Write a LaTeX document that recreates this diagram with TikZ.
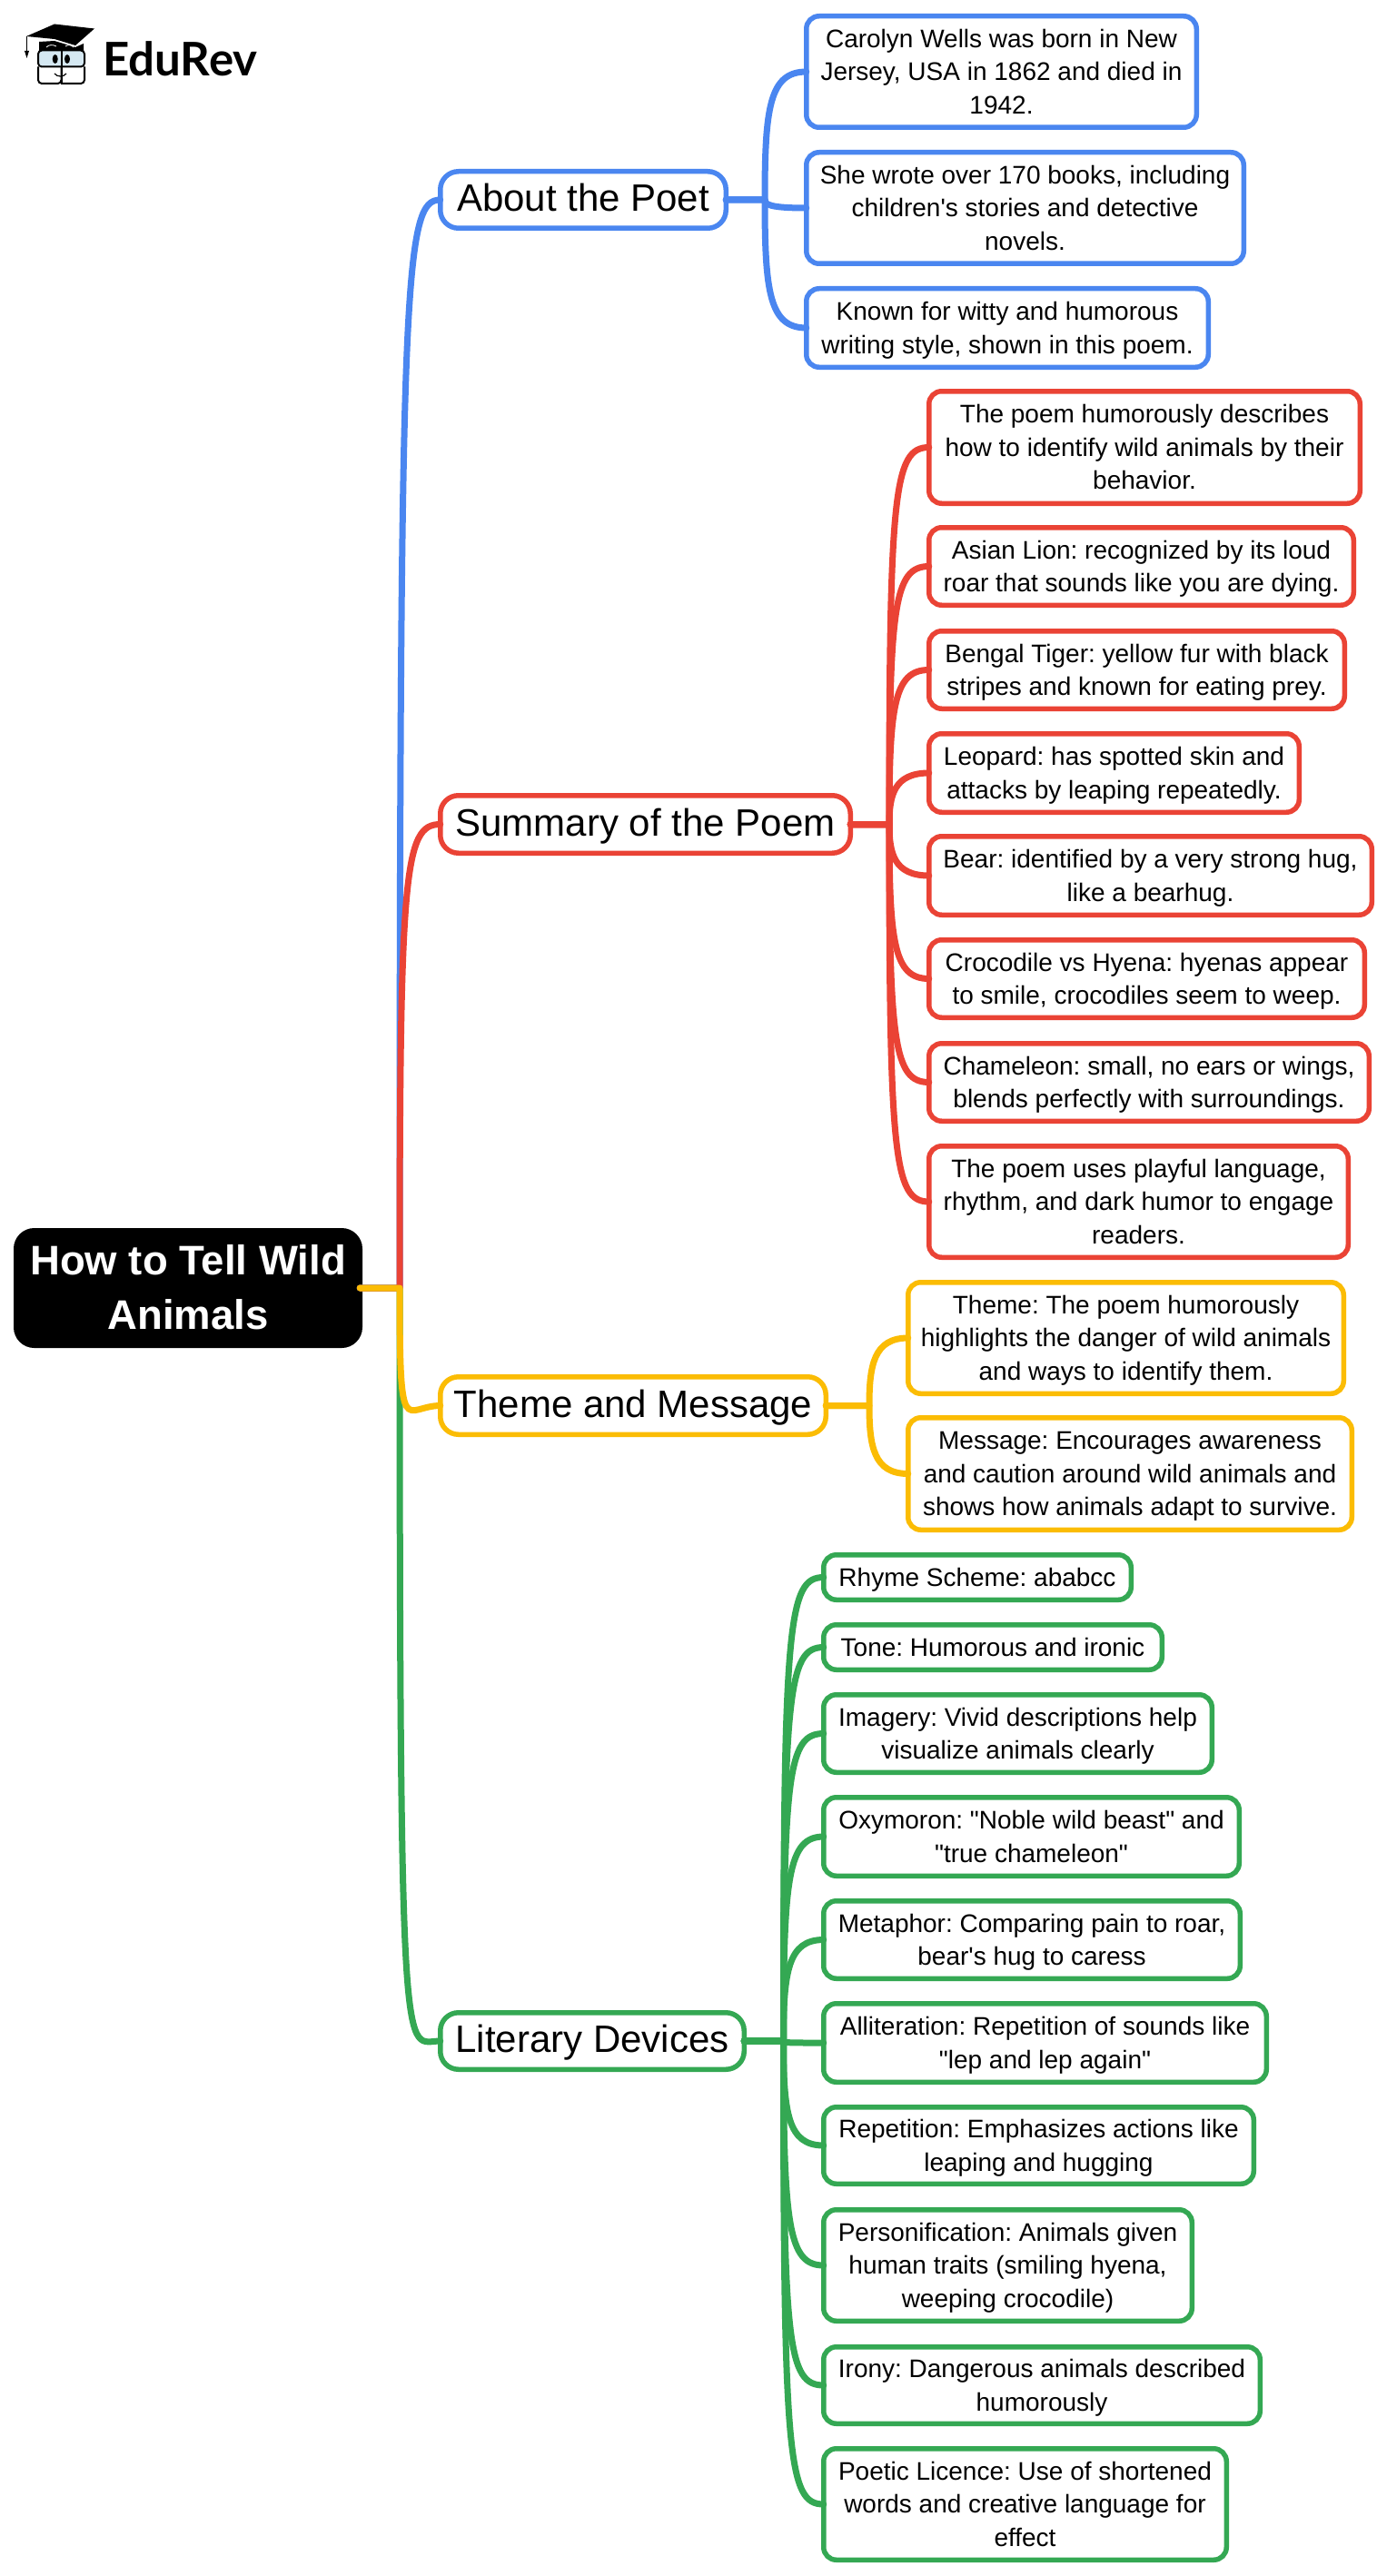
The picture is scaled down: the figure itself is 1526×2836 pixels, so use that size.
\documentclass[tikz,border=0pt]{standalone}
\usepackage{fontspec}
\newfontfamily\mmfont{Liberation Sans}
\newfontfamily\logofont{Lato}
\usetikzlibrary{calc}
\definecolor{mmblue}{HTML}{4A86F0}
\definecolor{mmred}{HTML}{EA4335}
\definecolor{mmyellow}{HTML}{FBBC04}
\definecolor{mmgreen}{HTML}{34A853}
\definecolor{glassblue}{HTML}{D5E8F2}
\newcommand{\mmdrop}{.25em}
\tikzset{
  mmbase/.style={rectangle,align=center,inner sep=0pt,outer sep=0pt,text=black},
  rootbox/.style={mmbase,draw=black,fill=black,line width=5.5pt,rounded corners=20pt,text=white,
    font=\mmfont\fontsize{45.5}{60}\selectfont\bfseries},
  branchbox/.style={mmbase,draw=#1,fill=white,line width=5.5pt,rounded corners=20pt,
    font=\mmfont\fontsize{42}{50}\selectfont\def\mmdrop{.3em}},
  leafbox/.style={mmbase,draw=#1,fill=white,line width=5.5pt,rounded corners=14pt,
    font=\mmfont\fontsize{28}{36.5}\selectfont},
  linkline/.style={draw=#1,line width=7pt,line cap=round,line join=round},
}
\newcommand{\mmstrut}{\rule[-\mmdrop]{0pt}{1.2em}}
% name, left, top, right, bottom (outer edges), style, text
\newcommand{\mmbox}[7]{%
  \pgfmathsetmacro\mmcx{(#2+#4+2)/2}%
  \pgfmathsetmacro\mmcy{(#3+#5)/2}%
  \pgfmathsetmacro\mmw{#4-#2-3.5}%
  \pgfmathsetmacro\mmh{#5-#3-5.5}%
  \node[#6,minimum width=\mmw pt,minimum height=\mmh pt] (#1) at (\mmcx,\mmcy) {\mmstrut #7\mmstrut};}
% colour, parent, trunk, child, control distance
\newcommand{\mmlink}[5]{%
  \draw[linkline=#1] (#2.east) -- (#3)
    .. controls ($(#3 |- #4.west)+(0,#5)$) and ($(#3 |- #4.west)+(5,0)$) .. (#4.west);}
\begin{document}
\frenchspacing
\begin{tikzpicture}[x=1pt,y=-1pt]
\useasboundingbox (0,0) rectangle (1526,2836);
\fill[white] (0,0) rectangle (1526,2836);

% logo
\fill[black] (29,40) -- (60,26.5) -- (104,31.5) -- (83,50) -- (60,43) -- cycle;
\fill[black] (43,46) -- (60,45) -- (83,52) -- (92,48) -- (92,56) -- (43,56) -- cycle;
\draw[white,line width=0.8pt] (51,52) .. controls (54,49) and (58,49) .. (62,51);
\draw[white,line width=0.8pt] (72,51) .. controls (75,49) and (78,49) .. (81,52);
\draw[black,line width=1.2pt] (29.5,40) -- (29.5,56);
\fill[black] (27,56) -- (32,56) -- (29.5,64) -- cycle;
\draw[black,line width=2pt,rounded corners=4pt] (42,73.5) -- (42,92) -- (67.5,92) -- (67.5,73.5);
\draw[black,line width=2pt,rounded corners=4pt] (67.5,92) -- (93,92) -- (93,73.5);
\draw[black,line width=2pt,fill=glassblue,rounded corners=4pt] (42,55.5) rectangle (93,73.5);
\draw[black,line width=2pt] (67.5,53) -- (67.5,93);
\fill[black] (60.7,65) ellipse [x radius=3pt,y radius=5pt];
\fill[black] (74,65) ellipse [x radius=3pt,y radius=5pt];
\draw[black,line width=1.2pt] (60,81) .. controls (63,85) and (70,85) .. (73,81);
\node[anchor=base west,inner sep=0pt,font=\logofont\fontsize{51}{51}\selectfont\bfseries] (logotext) at (113,83.5) {EduRev};

% root
\mmbox{root}{15}{1352}{397}{1484}{rootbox}{How to Tell Wild\\Animals}

% branches
\mmbox{about}{482}{186}{800}{254}{branchbox=mmblue}{About the Poet}
\mmbox{summary}{482}{873}{937}{942}{branchbox=mmred}{Summary of the Poem}
\mmbox{theme}{482}{1513}{910}{1582}{branchbox=mmyellow}{Theme and Message}
\mmbox{literary}{482}{2213}{820}{2281}{branchbox=mmgreen}{Literary Devices}

% blue leaves
\mmbox{b1}{885}{15}{1318}{143}{leafbox=mmblue}{Carolyn Wells was born in New\\Jersey, USA in 1862 and died in\\1942.}
\mmbox{b2}{885}{165}{1370}{293}{leafbox=mmblue}{She wrote over 170 books, including\\children's stories and detective\\novels.}
\mmbox{b3}{885}{315}{1331}{407}{leafbox=mmblue}{Known for witty and humorous\\writing style, shown in this poem.}

% red leaves
\mmbox{r1}{1020}{428}{1498}{557}{leafbox=mmred}{The poem humorously describes\\how to identify wild animals by their\\behavior.}
\mmbox{r2}{1020}{578}{1491}{669}{leafbox=mmred}{Asian Lion: recognized by its loud\\roar that sounds like you are dying.}
\mmbox{r3}{1020}{692}{1481}{783}{leafbox=mmred}{Bengal Tiger: yellow fur with black\\stripes and known for eating prey.}
\mmbox{r4}{1020}{805}{1431}{897}{leafbox=mmred}{Leopard: has spotted skin and\\attacks by leaping repeatedly.}
\mmbox{r5}{1020}{918}{1511}{1010}{leafbox=mmred}{Bear: identified by a very strong hug,\\like a bearhug.}
\mmbox{r6}{1020}{1032}{1503}{1123}{leafbox=mmred}{Crocodile vs Hyena: hyenas appear\\to smile, crocodiles seem to weep.}
\mmbox{r7}{1020}{1146}{1508}{1237}{leafbox=mmred}{Chameleon: small, no ears or wings,\\blends perfectly with surroundings.}
\mmbox{r8}{1020}{1259}{1485}{1387}{leafbox=mmred}{The poem uses playful language,\\rhythm, and dark humor to engage\\readers.}

% yellow leaves
\mmbox{y1}{997}{1409}{1480}{1537}{leafbox=mmyellow}{Theme: The poem humorously\\highlights the danger of wild animals\\and ways to identify them.}
\mmbox{y2}{997}{1558}{1489}{1687}{leafbox=mmyellow}{Message: Encourages awareness\\and caution around wild animals and\\shows how animals adapt to survive.}

% green leaves
\mmbox{g1}{904}{1709}{1246}{1764}{leafbox=mmgreen}{Rhyme Scheme: ababcc}
\mmbox{g2}{904}{1786}{1280}{1841}{leafbox=mmgreen}{Tone: Humorous and ironic}
\mmbox{g3}{904}{1863}{1335}{1954}{leafbox=mmgreen}{Imagery: Vivid descriptions help\\visualize animals clearly}
\mmbox{g4}{904}{1976}{1365}{2068}{leafbox=mmgreen}{Oxymoron: "Noble wild beast" and\\"true chameleon"}
\mmbox{g5}{904}{2090}{1366}{2181}{leafbox=mmgreen}{Metaphor: Comparing pain to roar,\\bear's hug to caress}
\mmbox{g6}{904}{2203}{1395}{2295}{leafbox=mmgreen}{Alliteration: Repetition of sounds like\\"lep and lep again"}
\mmbox{g7}{904}{2317}{1381}{2407}{leafbox=mmgreen}{Repetition: Emphasizes actions like\\leaping and hugging}
\mmbox{g8}{904}{2430}{1313}{2558}{leafbox=mmgreen}{Personification: Animals given\\human traits (smiling hyena,\\weeping crocodile)}
\mmbox{g9}{904}{2581}{1388}{2671}{leafbox=mmgreen}{Irony: Dangerous animals described\\humorously}
\mmbox{g10}{904}{2693}{1351}{2821}{leafbox=mmgreen}{Poetic Licence: Use of shortened\\words and creative language for\\effect}

% trunks
\coordinate (troot) at ($(root.east)+(43.75,0)$);
\coordinate (tblue) at ($(about.east)+(42.75,0)$);
\coordinate (tred) at ($(summary.east)+(42.75,0)$);
\coordinate (tyellow) at ($(theme.east)+(47.75,0)$);
\coordinate (tgreen) at ($(literary.east)+(43.25,0)$);

% connectors of the root
\mmlink{mmgreen}{root}{troot}{literary}{60}
\mmlink{mmblue}{root}{troot}{about}{80}
\mmlink{mmred}{root}{troot}{summary}{50}
\mmlink{mmyellow}{root}{troot}{theme}{45}

% connectors of the leaves
\mmlink{mmblue}{about}{tblue}{b1}{40}
\mmlink{mmblue}{about}{tblue}{b2}{-4}
\mmlink{mmblue}{about}{tblue}{b3}{-40}

\mmlink{mmred}{summary}{tred}{r1}{50}
\mmlink{mmred}{summary}{tred}{r2}{45}
\mmlink{mmred}{summary}{tred}{r3}{40}
\mmlink{mmred}{summary}{tred}{r4}{25}
\mmlink{mmred}{summary}{tred}{r5}{-25}
\mmlink{mmred}{summary}{tred}{r6}{-40}
\mmlink{mmred}{summary}{tred}{r7}{-45}
\mmlink{mmred}{summary}{tred}{r8}{-50}

\mmlink{mmyellow}{theme}{tyellow}{y1}{30}
\mmlink{mmyellow}{theme}{tyellow}{y2}{-30}

\mmlink{mmgreen}{literary}{tgreen}{g1}{50}
\mmlink{mmgreen}{literary}{tgreen}{g2}{50}
\mmlink{mmgreen}{literary}{tgreen}{g3}{45}
\mmlink{mmgreen}{literary}{tgreen}{g4}{45}
\mmlink{mmgreen}{literary}{tgreen}{g5}{35}
\mmlink{mmgreen}{literary}{tgreen}{g6}{0}
\mmlink{mmgreen}{literary}{tgreen}{g7}{-35}
\mmlink{mmgreen}{literary}{tgreen}{g8}{-45}
\mmlink{mmgreen}{literary}{tgreen}{g9}{-45}
\mmlink{mmgreen}{literary}{tgreen}{g10}{-50}
\end{tikzpicture}
\end{document}
